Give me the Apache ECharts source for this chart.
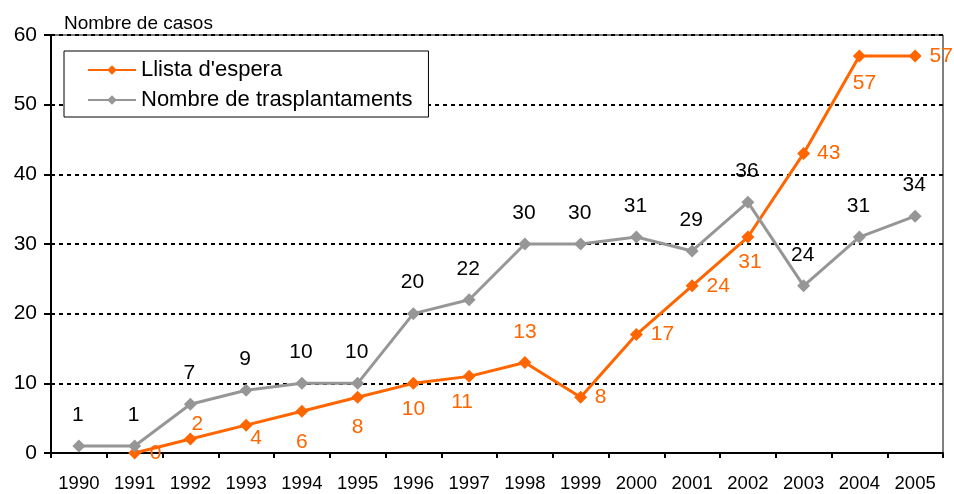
<!DOCTYPE html>
<html>
<head>
<meta charset="utf-8">
<script src="https://cdn.jsdelivr.net/npm/echarts@6/dist/echarts.min.js"></script>
<style>
    html, body { margin: 0; padding: 0; background: #fff; }
    #main { width: 954px; height: 494px; }
</style>
</head>
<body>
<div id="main"></div>
<script>
    // dades
    var years = ['1990', '1991', '1992', '1993', '1994', '1995', '1996', '1997',
        '1998', '1999', '2000', '2001', '2002', '2003', '2004', '2005'];
    var llistaEspera = [null, 0, 2, 4, 6, 8, 10, 11, 13, 8, 17, 24, 31, 43, 57, 57];
    var trasplantaments = [1, 1, 7, 9, 10, 10, 20, 22, 30, 30, 31, 29, 36, 24, 31, 34];

    var ORANGE = '#ff6600';
    var GREY = '#969696';
    var FONT = '"Liberation Sans", Arial, sans-serif';

    // desplaçament de cada etiqueta taronja respecte del punt
    var orangeOffsets = [null, [21, 0], [7, -15], [10, 13], [0, 31], [0, 30], [0, 26], [-7, 26],
        [0, -30], [20, 0], [26, 0], [26, 0], [2, 25], [25, 0], [5, 27], [26, 0]];

    var orangeData = llistaEspera.map(function (v, i) {
        if (v === null) return null;
        return {value: v, label: {offset: orangeOffsets[i]}};
    });

    var myChart = echarts.init(document.getElementById('main'));
    myChart.setOption({
        animation: false,
        textStyle: {fontFamily: FONT},
        title: {
            text: 'Nombre de casos',
            left: 59,
            top: 9,
            textStyle: {fontFamily: FONT, fontSize: 19, fontWeight: 'normal', color: '#000'}
        },
        legend: {
            orient: 'vertical',
            left: 64,
            top: 51,
            padding: [8, 16, 6, 23],
            itemWidth: 48,
            itemHeight: 12,
            itemGap: 8,
            backgroundColor: '#fff',
            borderColor: '#000',
            borderWidth: 1,
            textStyle: {fontFamily: FONT, fontSize: 22, color: '#000', lineHeight: 21},
            data: ["Llista d'espera", 'Nombre de trasplantaments']
        },
        grid: {
            left: 51,
            right: 11,
            top: 35,
            bottom: 41,
            show: true,
            borderColor: '#000',
            borderWidth: 1,
            outerBoundsMode: 'none'
        },
        xAxis: {
            type: 'category',
            data: years,
            boundaryGap: true,
            axisLine: {lineStyle: {color: '#000', width: 2}},
            axisTick: {show: true, length: 5, lineStyle: {color: '#000', width: 2}},
            axisLabel: {color: '#000', fontSize: 18.5, margin: 21, fontFamily: FONT, interval: 0}
        },
        yAxis: {
            type: 'value',
            min: 0,
            max: 60,
            interval: 10,
            axisLine: {show: true, lineStyle: {color: '#000', width: 2}},
            axisTick: {show: true, length: 7, lineStyle: {color: '#000', width: 2}},
            axisLabel: {color: '#000', fontSize: 21, margin: 14, fontFamily: FONT},
            splitLine: {lineStyle: {color: '#000', width: 2, type: [4, 4]}}
        },
        series: [
            {
                name: "Llista d'espera",
                type: 'line',
                data: orangeData,
                symbol: 'diamond',
                symbolSize: 13,
                itemStyle: {color: ORANGE},
                lineStyle: {color: ORANGE, width: 3},
                label: {
                    show: true,
                    position: 'inside',
                    color: ORANGE,
                    fontSize: 21,
                    fontFamily: FONT
                }
            },
            {
                name: 'Nombre de trasplantaments',
                type: 'line',
                data: trasplantaments,
                symbol: 'diamond',
                symbolSize: 13,
                itemStyle: {color: GREY},
                lineStyle: {color: GREY, width: 3},
                label: {
                    show: true,
                    position: 'inside',
                    offset: [-1, -31],
                    color: '#000',
                    fontSize: 21,
                    fontFamily: FONT
                }
            }
        ]
    });
</script>
</body>
</html>
